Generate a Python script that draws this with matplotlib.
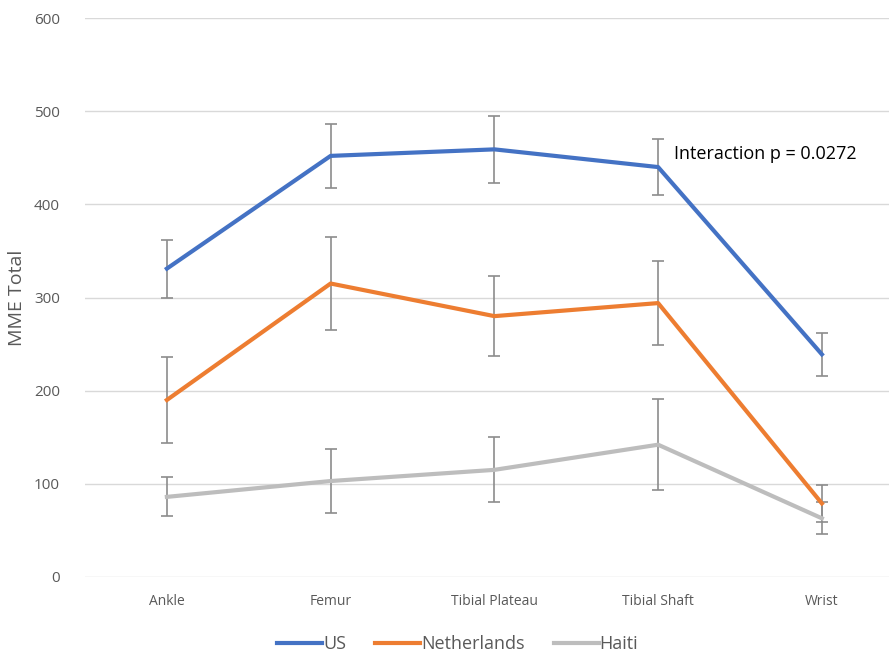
import numpy as np
import matplotlib.pyplot as plt
from matplotlib.lines import Line2D

plt.rcParams['font.family'] = ['Open Sans', 'DejaVu Sans']

# sites and group means / error bars
sites = ['Ankle', 'Femur', 'Tibial Plateau', 'Tibial Shaft', 'Wrist']
us_mean = [331, 452, 459, 440, 239]
us_err = [31, 34, 36, 30, 23]
nl_mean = [190, 315, 280, 294, 79]
nl_err = [46, 50, 43, 45, 20]
haiti_mean = [86, 103, 115, 142, 63]
haiti_err = [21, 34, 35, 49, 17]

groups = [
    ('US', us_mean, us_err, '#4472C4'),
    ('Netherlands', nl_mean, nl_err, '#ED7D31'),
    ('Haiti', haiti_mean, haiti_err, '#BDBDBD'),
]

fig = plt.figure(figsize=(8.89, 6.54), dpi=100)
ax = fig.add_axes([85 / 889, 1 - 577 / 654, 1 - 85 / 889, (577 - 18) / 654])

x = np.arange(len(sites))
for name, mean, err, col in groups:
    ax.errorbar(x, mean, yerr=err, color=col, lw=3, ecolor='#8c8c8c',
                elinewidth=1.2, capsize=4.3, capthick=1.2, label=name, zorder=3)

ax.set_xlim(-0.5, 4.41)
ax.set_ylim(0, 600)
ax.set_yticks(range(0, 601, 100))
ax.set_xticks(x)
ax.set_xticklabels(sites, fontsize=10, color='#595959')
ax.tick_params(axis='y', labelsize=11, labelcolor='#595959', length=0, pad=18)
ax.tick_params(axis='x', length=0, pad=12)
ax.grid(axis='y', color='#d9d9d9', lw=1)
ax.set_axisbelow(True)
for s in ax.spines.values():
    s.set_visible(False)

ax.set_ylabel('MME Total', fontsize=14, color='#595959', labelpad=6)

ax.text(3.095, 454, 'Interaction p = 0.0272', fontsize=13, va='center', ha='left')

labels = [g[0] for g in groups]
handles = [Line2D([], [], color=g[3], lw=3) for g in groups]
fig.legend(handles, labels, loc='center', bbox_to_anchor=(0.515, 1 - 644 / 654),
           ncol=3, frameon=False, fontsize=13, handlelength=2.5,
           handletextpad=0.05, columnspacing=1.6, labelcolor='#595959')

plt.savefig('out.png', dpi=100)
